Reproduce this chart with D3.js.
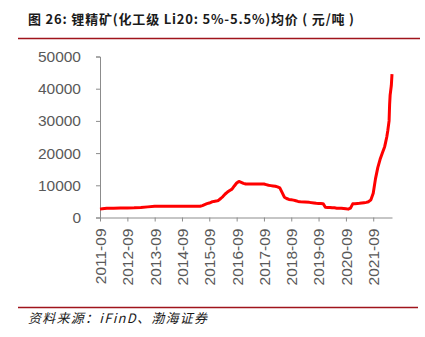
<!DOCTYPE html>
<html>
<head>
<meta charset="utf-8">
<script src="https://cdn.jsdelivr.net/npm/d3@7"></script>
<style>
  html, body { margin: 0; padding: 0; background: #fff; }
  svg { display: block; }
</style>
</head>
<body>
<svg id="chart" width="425" height="337"></svg>
<script>
// Lithium concentrate (chemical grade, Li2O 5%-5.5%) average price, CNY/ton
const dates = [
  "2011-09-01","2011-10-01","2011-11-01","2011-12-01","2012-03-01","2012-06-01","2012-09-01","2012-12-01",
  "2013-03-01","2013-06-01","2013-09-01","2014-03-01","2014-09-01","2015-03-01","2015-05-01",
  "2015-06-01","2015-07-01","2015-08-01","2015-09-01","2015-10-01","2015-11-01","2015-12-01",
  "2016-01-01","2016-02-01","2016-03-01","2016-04-01","2016-05-01","2016-06-01","2016-07-01",
  "2016-08-01","2016-09-01","2016-10-01","2016-11-01","2016-12-01","2017-01-01","2017-05-01",
  "2017-09-01","2017-10-01","2017-11-01","2017-12-01","2018-01-01","2018-02-01","2018-03-01",
  "2018-04-01","2018-05-01","2018-06-01","2018-07-01","2018-08-01","2018-09-01","2018-10-01",
  "2018-11-01","2018-12-01","2019-01-01","2019-03-01","2019-05-01","2019-07-01","2019-08-01",
  "2019-09-01","2019-10-01","2019-11-01","2019-12-01","2020-01-01","2020-02-01","2020-03-01",
  "2020-04-01","2020-05-01","2020-06-01","2020-07-01","2020-08-01","2020-09-01","2020-10-01",
  "2020-11-01","2020-12-01","2021-01-01","2021-02-01","2021-03-01","2021-04-01","2021-05-01",
  "2021-06-01","2021-07-01","2021-08-01","2021-09-01","2021-10-01","2021-11-01","2021-12-01",
  "2022-01-01","2022-02-01","2022-02-15","2022-03-01","2022-03-15","2022-04-01","2022-04-08",
  "2022-04-15","2022-05-01","2022-05-10"
];
const prices = [
  2600,2700,2800,2900,2900,2950,2950,3000,
  3100,3300,3500,3500,3500,3500,3500,
  3700,4000,4300,4500,4800,5000,5100,
  5300,5900,6500,7300,7900,8400,8800,
  9800,10700,11200,10900,10600,10400,10400,
  10400,10200,10000,9900,9800,9700,9500,
  9200,7800,6300,5900,5600,5500,5400,
  5200,5000,4900,4800,4700,4500,4400,
  4350,4350,4300,3200,3100,3100,3000,
  3000,2900,2900,2900,2800,2700,2600,
  2900,4250,4300,4350,4400,4500,4600,
  4700,4900,5500,7500,12000,15500,18000,
  20000,22000,23500,25000,27000,30000,35000,
  38000,41000,44500
];
const yTicks = [0, 10000, 20000, 30000, 40000, 50000];
const xTickLabels = ["2011-09","2012-09","2013-09","2014-09","2015-09","2016-09",
                     "2017-09","2018-09","2019-09","2020-09","2021-09"];

const titleText = "图 26: 锂精矿(化工级 Li20: 5%-5.5%)均价 ( 元/吨 )";
const sourceText = "资料来源：iFinD、渤海证券";

const parse = d3.timeParse("%Y-%m-%d");
const parseTick = d3.timeParse("%Y-%m");
const series = dates.map((d, i) => ({ date: parse(d), value: prices[i] }));

const svg = d3.select("#chart");
const margin = { left: 100, right: 33, top: 56.5, bottom: 119.5 };
const W = 425, H = 337;

const x = d3.scaleTime()
  .domain(d3.extent(series, d => d.date))
  .range([margin.left, W - margin.right]);
const y = d3.scaleLinear()
  .domain([0, 50000])
  .range([H - margin.bottom, margin.top]);

const axisColor = "#8c8c8c";
const labelColor = "#595959";

// title and rule
svg.append("text")
  .attr("x", 28).attr("y", 24)
  .attr("font-family", "'Noto Sans CJK SC', sans-serif")
  .attr("font-size", 13)
  .attr("font-weight", "bold")
  .attr("fill", "#1a1a1a")
  .attr("textLength", 326)
  .attr("lengthAdjust", "spacing")
  .text(titleText);
svg.append("line")
  .attr("x1", 18).attr("x2", 420).attr("y1", 38.5).attr("y2", 38.5)
  .attr("stroke", "#a0141c").attr("stroke-width", 1.6);

// y axis
const yAxis = svg.append("g")
  .attr("transform", `translate(${margin.left},0)`)
  .call(d3.axisLeft(y).tickValues(yTicks).tickSize(4).tickPadding(15).tickFormat(d3.format("d")));
yAxis.select(".domain").attr("stroke", axisColor);
yAxis.selectAll(".tick line").attr("stroke", axisColor);
yAxis.selectAll(".tick text")
  .attr("fill", labelColor)
  .attr("font-family", "'Liberation Sans', Arial, sans-serif")
  .attr("font-size", 15.5);

// x axis
const xAxis = svg.append("g")
  .attr("transform", `translate(0,${H - margin.bottom})`)
  .call(d3.axisBottom(x)
    .tickValues(xTickLabels.map(s => parseTick(s)))
    .tickSize(4)
    .tickSizeOuter(0)
    .tickFormat(d3.timeFormat("%Y-%m")));
xAxis.select(".domain").attr("stroke", axisColor);
xAxis.selectAll(".tick line").attr("stroke", axisColor);
xAxis.selectAll(".tick text")
  .attr("fill", labelColor)
  .attr("font-family", "'Liberation Sans', Arial, sans-serif")
  .attr("font-size", 15.5)
  .attr("transform", "rotate(-90)")
  .attr("text-anchor", "end")
  .attr("x", -11)
  .attr("y", 0)
  .attr("dy", "0.35em");

// price line
const line = d3.line()
  .x(d => x(d.date))
  .y(d => y(d.value));
svg.append("path")
  .datum(series)
  .attr("fill", "none")
  .attr("stroke", "#ff0000")
  .attr("stroke-width", 3)
  .attr("stroke-linejoin", "round")
  .attr("d", line);

// source rule and note
svg.append("line")
  .attr("x1", 18).attr("x2", 418).attr("y1", 307.5).attr("y2", 307.5)
  .attr("stroke", "#a0141c").attr("stroke-width", 1.3);
svg.append("text")
  .attr("x", 28).attr("y", 323)
  .attr("font-family", "'Noto Sans CJK SC', sans-serif")
  .attr("font-size", 13)
  .attr("font-style", "italic")
  .attr("fill", "#1a1a1a")
  .attr("textLength", 179)
  .attr("lengthAdjust", "spacing")
  .text(sourceText);
</script>
</body>
</html>
